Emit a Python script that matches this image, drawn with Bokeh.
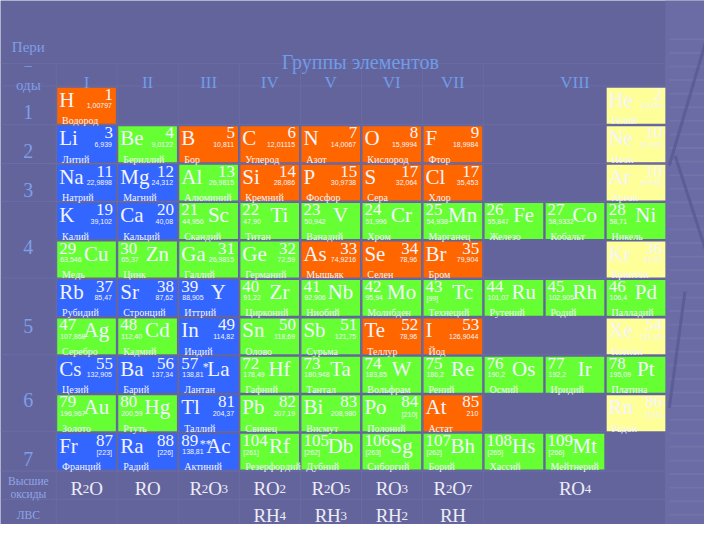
from bokeh.plotting import figure
from bokeh.models import Range1d
from bokeh.core.properties import value
from bokeh.embed import file_html
from bokeh.resources import INLINE

# ---------------- data ----------------
symbols = ["H", "He",
           "Li", "Be", "B", "C", "N", "O", "F", "Ne",
           "Na", "Mg", "Al", "Si", "P", "S", "Cl", "Ar",
           "K", "Ca", "Sc", "Ti", "V", "Cr", "Mn", "Fe", "Co", "Ni",
           "Cu", "Zn", "Ga", "Ge", "As", "Se", "Br", "Kr",
           "Rb", "Sr", "Y", "Zr", "Nb", "Mo", "Tc", "Ru", "Rh", "Pd",
           "Ag", "Cd", "In", "Sn", "Sb", "Te", "I", "Xe",
           "Cs", "Ba", "La", "Hf", "Ta", "W", "Re", "Os", "Ir", "Pt",
           "Au", "Hg", "Tl", "Pb", "Bi", "Po", "At", "Rn",
           "Fr", "Ra", "Ac", "Rf", "Db", "Sg", "Bh", "Hs", "Mt"]
numbers = ["1", "2",
           "3", "4", "5", "6", "7", "8", "9", "10",
           "11", "12", "13", "14", "15", "17", "17", "18",
           "19", "20", "21", "22", "23", "24", "25", "26", "27", "28",
           "29", "30", "31", "32", "33", "34", "35", "36",
           "37", "38", "39", "40", "41", "42", "43", "44", "45", "46",
           "47", "48", "49", "50", "51", "52", "53", "54",
           "55", "56", "57", "72", "73", "74", "75", "76", "77", "78",
           "79", "80", "81", "82", "83", "84", "85", "86",
           "87", "88", "89", "104", "105", "106", "107", "108", "109"]
masses = ["1,00797", "4,0026",
          "6,939", "9,0122", "10,811", "12,01115", "14,0067", "15,9994", "18,9984", "20,183",
          "22,9898", "24,312", "26,9815", "28,086", "30,9738", "32,064", "35,453", "39,948",
          "39,102", "40,08", "44,956", "47,90", "50,942", "51,996", "54,938", "55,847", "58,9332", "58,71",
          "63,546", "65,37", "26,9815", "72,59", "74,9216", "78,96", "79,904", "83,80",
          "85,47", "87,62", "88,905", "91,22", "92,906", "95,94", "[99]", "101,07", "102,905", "106,4",
          "107,868", "112,40", "114,82", "118,69", "121,75", "78,96", "126,9044", "131,30",
          "132,905", "137,34", "138,81", "178,49", "180,948", "183,85", "186,2", "190,2", "192,2", "195,09",
          "196,967", "200,59", "204,37", "207,19", "208,980", "[210]", "210", "[222]",
          "[223]", "[226]", "138,81", "[261]", "[262]", "[263]", "[262]", "[265]", "[266]"]
names = ["Водород", "Гелий",
         "Литий", "Бериллий", "Бор", "Углерод", "Азот", "Кислород", "Фтор", "Неон",
         "Натрий", "Магний", "Алюминий", "Кремний", "Фосфор", "Сера", "Хлор", "Аргон",
         "Калий", "Кальций", "Скандий", "Титан", "Ванадий", "Хром", "Марганец", "Железо", "Кобальт", "Никель",
         "Медь", "Цинк", "Галлий", "Германий", "Мышьяк", "Селен", "Бром", "Криптон",
         "Рубидий", "Стронций", "Иттрий", "Цирконий", "Ниобий", "Молибден", "Технеций", "Рутений", "Родий", "Палладий",
         "Серебро", "Кадмий", "Индий", "Олово", "Сурьма", "Теллур", "Йод", "Ксенон",
         "Цезий", "Барий", "Лантан", "Гафний", "Тантал", "Вольфрам", "Рений", "Осмий", "Иридий", "Платина",
         "Золото", "Ртуть", "Таллий", "Свинец", "Висмут", "Полоний", "Астат", "Радон",
         "Франций", "Радий", "Актиний", "Резерфордий", "Дубний", "Сиборгий", "Борий", "Хассий", "Мейтнерий"]
rows = [0, 0,
        1, 1, 1, 1, 1, 1, 1, 1,
        2, 2, 2, 2, 2, 2, 2, 2,
        3, 3, 3, 3, 3, 3, 3, 3, 3, 3,
        4, 4, 4, 4, 4, 4, 4, 4,
        5, 5, 5, 5, 5, 5, 5, 5, 5, 5,
        6, 6, 6, 6, 6, 6, 6, 6,
        7, 7, 7, 7, 7, 7, 7, 7, 7, 7,
        8, 8, 8, 8, 8, 8, 8, 8,
        9, 9, 9, 9, 9, 9, 9, 9, 9]
cols = [0, 9,
        0, 1, 2, 3, 4, 5, 6, 9,
        0, 1, 2, 3, 4, 5, 6, 9,
        0, 1, 2, 3, 4, 5, 6, 7, 8, 9,
        0, 1, 2, 3, 4, 5, 6, 9,
        0, 1, 2, 3, 4, 5, 6, 7, 8, 9,
        0, 1, 2, 3, 4, 5, 6, 9,
        0, 1, 2, 3, 4, 5, 6, 7, 8, 9,
        0, 1, 2, 3, 4, 5, 6, 9,
        0, 1, 2, 3, 4, 5, 6, 7, 8]
kinds = ["o", "y",
         "b", "g", "o", "o", "o", "o", "o", "y",
         "b", "b", "g", "o", "o", "o", "o", "y",
         "b", "b", "g", "g", "g", "g", "g", "g", "g", "g",
         "g", "g", "g", "g", "o", "o", "o", "y",
         "b", "b", "b", "g", "g", "g", "g", "g", "g", "g",
         "g", "g", "b", "g", "g", "o", "o", "y",
         "b", "b", "b", "g", "g", "g", "g", "g", "g", "g",
         "g", "g", "b", "g", "g", "g", "o", "y",
         "b", "b", "b", "g", "g", "g", "g", "g", "g"]
number_left = {"Sc", "Ti", "V", "Cr", "Mn", "Fe", "Co", "Ni", "Cu", "Zn",
               "Y", "Zr", "Nb", "Mo", "Tc", "Ru", "Rh", "Pd", "Ag", "Cd",
               "La", "Hf", "Ta", "W", "Re", "Os", "Ir", "Pt", "Au", "Hg",
               "Ac", "Rf", "Db", "Sg", "Bh", "Hs", "Mt"}
marks = {"La": "*", "Ac": "**"}

group_labels = ["I", "II", "III", "IV", "V", "VI", "VII", "VIII"]
period_labels = ["1", "2", "3", "4", "5", "6", "7"]
oxides = ["R2O", "RO", "R2O3", "RO2", "R2O5", "RO3", "R2O7", "RO4"]
hydrides = ["", "", "", "RH4", "RH3", "RH2", "RH", ""]

# ---------------- style / layout ----------------
BG = "#64649d"
PAL = {"o": "#ff6600", "b": "#3366ff", "g": "#66ff33", "y": "#ffff99"}
SERIF = value("Liberation Serif")
X0, DX, CW = 58.0, 62.44, 60.0
Y0, DY, CH = 90.0, 39.6, 37.0
TXT = "#f4f4ff"
BLUE_T = "#6f9ce8"

p = figure(width=704, height=524, x_range=Range1d(0, 720), y_range=Range1d(540, 0),
           output_backend="svg", toolbar_location=None, min_border=0)
p.xaxis.visible = False
p.yaxis.visible = False
p.grid.visible = False
p.outline_line_color = None
p.background_fill_color = BG
p.border_fill_color = BG

# right decorative strip
p.quad(left=[680], right=[725], top=[0], bottom=[545], fill_color="#6b6ba5", line_color=None)
hy = [40 + 14 * k for k in range(36)]
p.segment(x0=[684] * len(hy), y0=hy, x1=[725] * len(hy), y1=hy, line_color="#7676ad", line_width=2, line_alpha=0.7)
p.segment(x0=[722, 690, 700], y0=[40, 160, 300], x1=[684, 722, 684], y1=[170, 260, 420],
          line_color="#5a5a92", line_width=3, line_alpha=0.8)

# faint table grid
hlines = [65, 88, 128, 168, 207, 286, 365, 444, 485, 514]
p.segment(x0=[0] * len(hlines), y0=hlines, x1=[680] * len(hlines), y1=hlines,
          line_color="#7272aa", line_width=1, line_alpha=0.6)
vx = [X0 - 1 + DX * k for k in range(8)] + [680]
p.segment(x0=vx, y0=[65] * len(vx), x1=vx, y1=[540] * len(vx),
          line_color="#7272aa", line_width=1, line_alpha=0.5)

# cells
lefts = [X0 + DX * c for c in cols]
tops = [Y0 + DY * r for r in rows]
p.quad(left=lefts, right=[l + CW for l in lefts], top=tops, bottom=[t + CH for t in tops],
       fill_color=[PAL[k] for k in kinds], line_color=None)

sx, sy, st, sa = [], [], [], []
nx, ny, nt, na = [], [], [], []
mx, my, mt, ma = [], [], [], []
for s, n, m, l, t in zip(symbols, numbers, masses, lefts, tops):
    if s in number_left:
        nx.append(l + 2); ny.append(t + 1); nt.append(n); na.append("left")
        sx.append(l + 40); sy.append(t + 0); st.append(s); sa.append("center")
        mx.append(l + 3); my.append(t + 16); mt.append(m); ma.append("left")
    else:
        sx.append(l + 2); sy.append(t + 0); st.append(s); sa.append("left")
        nx.append(l + 57); ny.append(t + 1); nt.append(n); na.append("right")
        mx.append(l + 56); my.append(t + 16); mt.append(m); ma.append("right")

p.text(x=sx, y=sy, text=st, text_align=sa, text_baseline="top", text_font=SERIF,
       text_font_size="21px", text_color=TXT)
p.text(x=nx, y=ny, text=nt, text_align=na, text_baseline="top", text_font=SERIF,
       text_font_size="17px", text_color=TXT)
p.text(x=mx, y=my, text=mt, text_align=ma, text_baseline="top", text_font=value("Liberation Sans"),
       text_font_size="7px", text_color=TXT)
p.text(x=[l + 5 for l in lefts], y=[t + 34 for t in tops], text=names, text_align="left",
       text_baseline="alphabetic", text_font=SERIF, text_font_size="10px", text_color=TXT)
mk_x = [l + 27 for s, l in zip(symbols, lefts) if s in marks]
mk_y = [t + 3 for s, t in zip(symbols, tops) if s in marks]
mk_t = [marks[s] for s in symbols if s in marks]
p.text(x=mk_x, y=mk_y, text=mk_t, text_align="center", text_baseline="top", text_font=SERIF,
       text_font_size="12px", text_color=TXT)

# headers
p.text(x=[368], y=[63], text=["Группы элементов"], text_align="center", text_baseline="alphabetic",
       text_font=SERIF, text_font_size="20px", text_color=BLUE_T)
gcx = [X0 + DX * c + CW / 2 for c in range(7)] + [X0 + DX * 8 + CW / 2]
p.text(x=gcx, y=[84] * 8, text=group_labels, text_align="center", text_baseline="alphabetic",
       text_font=SERIF, text_font_size="17px", text_color=BLUE_T)

# left column
LC = "#7d9fe8"
p.text(x=[28.5, 28.5, 28.5], y=[48, 66, 87], text=["Пери", "–", "оды"], text_align="center",
       text_baseline="middle", text_font=SERIF, text_font_size="15px", text_color=LC)
p.text(x=[28.5] * 7, y=[115, 155, 195, 254, 335, 412, 473], text=period_labels, text_align="center",
       text_baseline="alphabetic", text_font=SERIF, text_font_size="20px", text_color=LC)
p.text(x=[28.5, 28.5, 28.5], y=[495, 509, 530], text=["Высшие", "оксиды", "ЛВС"], text_align="center",
       text_baseline="alphabetic", text_font=SERIF, text_font_size="11.5px", text_color="#8ea6e6")

# formulas with smaller digits
WID = {"R": 0.667, "O": 0.722, "H": 0.722}
BIG, SMALL = 19.0, 13.0
fx, fy, ft, fs = [], [], [], []
def place(formula, cx, base):
    segs = []
    for ch in formula:
        if ch.isdigit():
            segs.append((ch, SMALL, 0.5 * SMALL))
        else:
            segs.append((ch, BIG, WID[ch] * BIG))
    x = cx - sum(w for _, _, w in segs) / 2
    for ch, size, w in segs:
        fx.append(x); fy.append(base); ft.append(ch); fs.append("%dpx" % size)
        x += w
for f, cx in zip(oxides, gcx):
    place(f, cx, 503)
for f, cx in zip(hydrides, gcx):
    if f:
        place(f, cx, 531)
p.text(x=fx, y=fy, text=ft, text_font_size=fs, text_align="left", text_baseline="alphabetic",
       text_font=SERIF, text_color="#ececf6")

open("out.html", "w").write(file_html(p, INLINE))
